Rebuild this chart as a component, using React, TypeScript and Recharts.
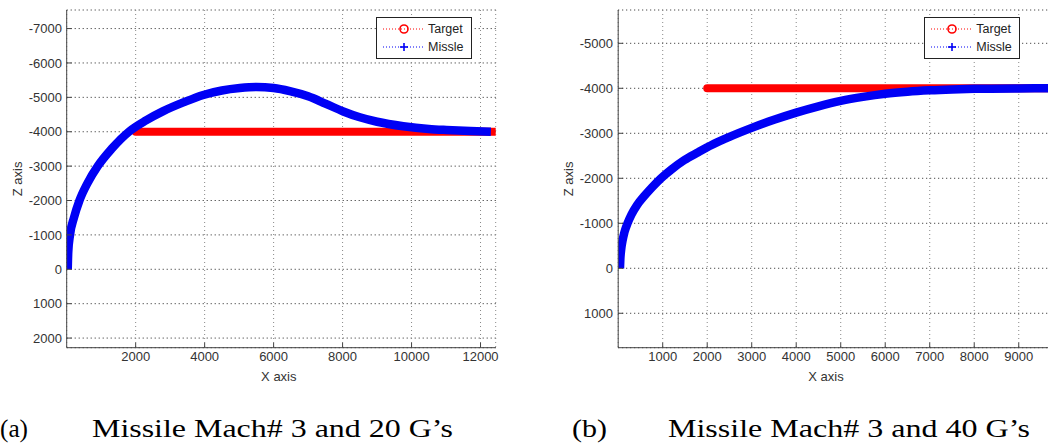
import { LineChart, Line, XAxis, YAxis, CartesianGrid, Legend } from "recharts";

// (a) Mach 3, 20 G's
const aMissileX = [30, 45, 96, 210, 370, 600, 900, 1300, 1840, 2300, 2800, 3400, 3960, 4500, 5020, 5500, 6000, 6470, 7000, 7500, 8020, 8500, 9000, 9760, 10500, 11010, 11700, 12300];
const aMissileZ = [0, -500, -1000, -1500, -2000, -2500, -3000, -3500, -4030, -4330, -4600, -4860, -5070, -5200, -5270, -5300, -5270, -5180, -5030, -4820, -4590, -4420, -4290, -4160, -4080, -4050, -4020, -4000];
const aTargetX = [2000, 12440];
const aTargetZ = [-4000, -4000];
const aXTicks = [2000, 4000, 6000, 8000, 10000, 12000];
const aZTicks = [-7000, -6000, -5000, -4000, -3000, -2000, -1000, 0, 1000, 2000];

// (b) Mach 3, 40 G's
const bMissileX = [40, 48, 65, 95, 140, 210, 300, 420, 580, 760, 960, 1200, 1480, 1800, 2100, 2500, 3000, 3500, 4000, 4500, 5000, 5500, 6000, 6500, 7000, 7500, 8000, 9000, 9680];
const bMissileZ = [0, -200, -400, -600, -800, -1000, -1200, -1400, -1600, -1800, -2000, -2200, -2400, -2580, -2740, -2920, -3120, -3300, -3460, -3600, -3720, -3810, -3880, -3925, -3955, -3975, -3988, -3998, -4000];
const bTargetX = [2000, 9700];
const bTargetZ = [-4000, -4000];
const bXTicks = [1000, 2000, 3000, 4000, 5000, 6000, 7000, 8000, 9000];
const bZTicks = [-5000, -4000, -3000, -2000, -1000, 0, 1000];

const captions = [
  { tag: "(a)", text: "Missile Mach# 3 and 20 G\u2019s", tagX: 0, tagW: 28, textX: 92, textW: 361 },
  { tag: "(b)", text: "Missile Mach# 3 and 40 G\u2019s", tagX: 572, tagW: 35, textX: 668, textW: 362 },
];

const toPoints = (xs: number[], zs: number[]) => xs.map((x, i) => ({ x, z: zs[i] }));

const FONT = "'Liberation Sans', Arial, sans-serif";
const AXIS = "#444";
const BLUE = "#0000f5";
const RED = "#ff0000";

const tickStyle = { fontSize: 13, fill: "#333", fontFamily: FONT };

function LegendBox() {
  const rows = [
    { name: "Target", color: RED, marker: "o" },
    { name: "Missle", color: BLUE, marker: "+" },
  ];
  return (
    <div style={{ width: 96, height: 42, boxSizing: "border-box", border: "1px solid #222", background: "#fff", position: "relative" }}>
      {rows.map((r, i) => (
        <div key={r.name} style={{ position: "absolute", left: 0, top: 2 + i * 18.5, height: 18, width: 94 }}>
          <svg width={50} height={18} style={{ position: "absolute", left: 0, top: 0 }}>
            <line x1={6} x2={48} y1={9} y2={9} stroke={r.color} strokeWidth={1} strokeDasharray="1 2" />
            {r.marker === "o" ? (
              <circle cx={27} cy={9} r={4} fill="none" stroke={r.color} strokeWidth={1.6} />
            ) : (
              <g stroke={r.color} strokeWidth={1.6}>
                <line x1={23} x2={31} y1={9} y2={9} />
                <line x1={27} x2={27} y1={5} y2={13} />
              </g>
            )}
          </svg>
          <span style={{ position: "absolute", left: 51, top: 1, fontFamily: FONT, fontSize: 12.5, color: "#222", lineHeight: "16px" }}>{r.name}</span>
        </div>
      ))}
    </div>
  );
}

interface PanelProps {
  left: number;
  width: number;
  margin: { top: number; right: number; bottom: number; left: number };
  missile: { x: number; z: number }[];
  target: { x: number; z: number }[];
  xDomain: [number, number];
  zDomain: [number, number];
  xTicks: number[];
  zTicks: number[];
  yLabelDx: number;
  xLabelDx: number;
  yTickMargin: number;
  legendLeft: number;
}

function Panel(p: PanelProps) {
  return (
    <div style={{ position: "absolute", left: p.left, top: 0 }}>
      <LineChart width={p.width} height={395} margin={p.margin}>
        <CartesianGrid horizontal={true} vertical={false} stroke="#222" strokeDasharray="1 3" />
        <CartesianGrid horizontal={false} vertical={true} stroke="#888" strokeDasharray="1 3" />
        <XAxis
          type="number"
          dataKey="x"
          domain={p.xDomain}
          ticks={p.xTicks}
          allowDataOverflow
          height={40}
          tickSize={-5}
          tickMargin={9}
          tick={tickStyle}
          stroke={AXIS}
          label={{ value: "X axis", position: "insideBottom", offset: 7, dx: p.xLabelDx, style: { fontSize: 13, fill: "#333", fontFamily: FONT } }}
        />
        <XAxis
          xAxisId="top"
          orientation="top"
          type="number"
          dataKey="x"
          domain={p.xDomain}
          ticks={p.xTicks}
          allowDataOverflow
          height={0}
          tickSize={-5}
          tickFormatter={() => ""}
          stroke={AXIS}
        />
        <YAxis
          type="number"
          dataKey="z"
          domain={p.zDomain}
          ticks={p.zTicks}
          reversed
          allowDataOverflow
          width={60}
          tickSize={-5}
          tickMargin={p.yTickMargin}
          tick={tickStyle}
          stroke={AXIS}
          label={{ value: "Z axis", angle: -90, position: "center", dx: p.yLabelDx, style: { fontSize: 13, fill: "#333", fontFamily: FONT } }}
        />
        <YAxis
          yAxisId="right"
          orientation="right"
          type="number"
          domain={p.zDomain}
          ticks={p.zTicks}
          reversed
          allowDataOverflow
          width={0}
          tickSize={-5}
          tickFormatter={() => ""}
          stroke={AXIS}
        />
        <Legend
          layout="vertical"
          align="center"
          verticalAlign="middle"
          content={() => <LegendBox />}
          wrapperStyle={{ left: p.legendLeft, top: 16.5, width: 96, height: 42, margin: 0 }}
        />
        <Line
          data={p.target}
          dataKey="z"
          name="Target"
          type="linear"
          stroke={RED}
          strokeWidth={8}
          strokeLinecap="round"
          dot={false}
          isAnimationActive={false}
        />
        <Line
          data={p.missile}
          dataKey="z"
          name="Missle"
          type="monotoneX"
          stroke={BLUE}
          strokeWidth={8.5}
          strokeLinecap="butt"
          strokeLinejoin="round"
          dot={false}
          isAnimationActive={false}
        />
      </LineChart>
    </div>
  );
}

export default function App() {
  return (
    <div style={{ position: "absolute", left: 0, top: 0, width: 1048, height: 447, overflow: "hidden", background: "#fff" }}>
      <Panel
        left={0}
        width={520}
        margin={{ top: 10, right: 24.3, bottom: 7.3, left: 6.7 }}
        missile={toPoints(aMissileX, aMissileZ)}
        target={toPoints(aTargetX, aTargetZ)}
        xDomain={[0, 12440]}
        zDomain={[-7540, 2280]}
        xTicks={aXTicks}
        zTicks={aZTicks}
        yLabelDx={-19.7}
        xLabelDx={-2.4}
        yTickMargin={9.7}
        legendLeft={376}
      />
      <Panel
        left={520}
        width={540}
        margin={{ top: 10, right: 11, bottom: 7.3, left: 38.2 }}
        missile={toPoints(bMissileX, bMissileZ)}
        target={toPoints(bTargetX, bTargetZ)}
        xDomain={[0, 9680]}
        zDomain={[-5740, 1765]}
        xTicks={bXTicks}
        zTicks={bZTicks}
        yLabelDx={-20.2}
        xLabelDx={-7.6}
        yTickMargin={10.2}
        legendLeft={404.3}
      />
      <svg width={1048} height={447} style={{ position: "absolute", left: 0, top: 0, pointerEvents: "none" }}>
        {captions.map((c) => (
          <g key={c.tag} fontFamily="'Liberation Serif', 'Times New Roman', serif" fontSize={26} fill="#000">
            <text x={c.tagX} y={437} textLength={c.tagW} lengthAdjust="spacingAndGlyphs">{c.tag}</text>
            <text x={c.textX} y={437} textLength={c.textW} lengthAdjust="spacingAndGlyphs">{c.text}</text>
          </g>
        ))}
      </svg>
    </div>
  );
}
